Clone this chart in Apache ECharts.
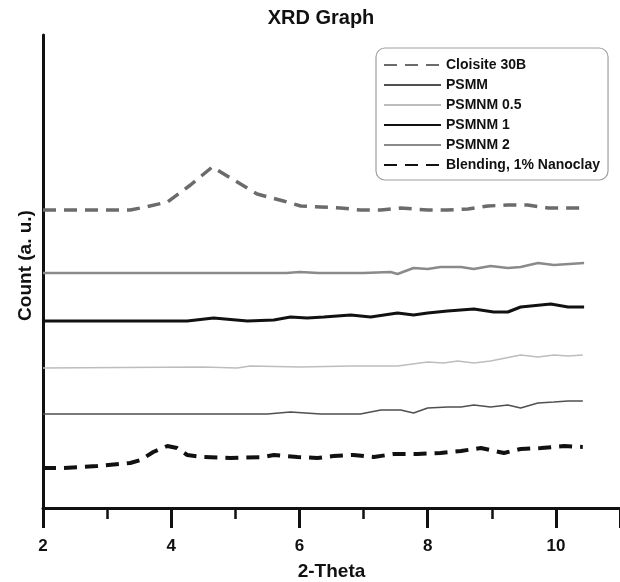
<!DOCTYPE html>
<html>
<head>
<meta charset="utf-8">
<script src="https://cdn.jsdelivr.net/npm/echarts@6/dist/echarts.min.js"></script>
<style>
  html, body { margin: 0; padding: 0; background: #fff; }
  #chart { width: 620px; height: 582px; }
</style>
</head>
<body>
<div id="chart"></div>
<script>
// XRD curves, y in arbitrary units (stacked offsets)
const cloisiteX = [2, 2.5, 3, 3.36, 3.6, 3.94, 4.3, 4.64, 5.03, 5.34, 5.75, 6.02, 6.33, 6.64, 6.95, 7.27, 7.58, 8.0, 8.3, 8.63, 8.94, 9.25, 9.56, 9.88, 10.4]
const cloisiteY = [298, 298, 298, 298, 301, 306, 323, 341, 326, 314, 307, 302, 301, 300, 298, 298, 300, 298, 298, 299, 302, 303, 303, 300, 300]

const psmmX = [2, 5.5, 5.86, 6.33, 6.95, 7.27, 7.58, 7.78, 8.0, 8.31, 8.52, 8.72, 8.98, 9.25, 9.45, 9.72, 9.97, 10.19, 10.42]
const psmmY = [94, 94, 96, 94, 94, 98, 98, 95, 100, 101, 101, 103, 101, 103, 100, 105, 106, 107, 107]

const psmnm05X = [2, 4.5, 5.03, 5.23, 6.02, 6.8, 7.53, 8.0, 8.25, 8.47, 8.72, 8.98, 9.45, 9.72, 9.97, 10.19, 10.42]
const psmnm05Y = [140, 141, 140, 142, 141, 142, 142, 146, 145, 147, 145, 147, 153, 151, 153, 152, 153]

const psmnm1X = [2, 4.25, 4.66, 5.19, 5.6, 5.86, 6.12, 6.38, 6.8, 7.11, 7.53, 7.78, 8.0, 8.31, 8.72, 9.03, 9.25, 9.45, 9.92, 10.19, 10.44]
const psmnm1Y = [187, 187, 190, 187, 188, 191, 190, 191, 193, 191, 195, 193, 195, 197, 199, 196, 196, 201, 204, 201, 201]

const psmnm2X = [2, 5.8, 6.0, 6.3, 7.0, 7.42, 7.53, 7.78, 8.0, 8.2, 8.52, 8.72, 8.98, 9.25, 9.45, 9.72, 9.97, 10.44]
const psmnm2Y = [235, 235, 236, 235, 235, 236, 234, 240, 239, 241, 241, 239, 242, 240, 241, 245, 243, 245]

const blendX = [2, 2.31, 2.84, 3.36, 3.52, 3.72, 3.94, 4.09, 4.25, 4.5, 4.92, 5.44, 5.6, 5.97, 6.28, 6.53, 6.84, 7.16, 7.47, 7.84, 8.2, 8.52, 8.83, 9.19, 9.45, 9.77, 10.13, 10.42]
const blendY = [40, 40, 42, 45, 48, 56, 62, 60, 53, 51, 50, 51, 53, 51, 50, 52, 53, 51, 54, 54, 55, 57, 60, 55, 59, 60, 62, 61]

const zip = (xs, ys) => xs.map((x, i) => [x, ys[i]])

const FONT = 'Liberation Sans'
const chart = echarts.init(document.getElementById('chart'))

function line(name, xs, ys, color, width, type) {
  return {
    name, type: 'line', data: zip(xs, ys),
    symbol: 'none', smooth: false,
    lineStyle: { color, width, type: type || 'solid' },
    itemStyle: { color }
  }
}

chart.setOption({
  animation: false,
  title: {
    text: 'XRD Graph', left: 316, top: 3, textAlign: 'center',
    textStyle: { fontFamily: FONT, fontSize: 20, fontWeight: 'bold', color: '#111' }
  },
  legend: {
    orient: 'vertical', left: 376, top: 48,
    padding: [10, 8, 8, 7],
    itemWidth: 57, itemHeight: 14, itemGap: 6,
    borderColor: '#a0a0a0', borderWidth: 1.2, borderRadius: 9,
    itemStyle: { opacity: 0 },
    textStyle: { fontFamily: FONT, fontSize: 14, fontWeight: 'bold', color: '#111' },
    data: ['Cloisite 30B', 'PSMM', 'PSMNM 0.5', 'PSMNM 1', 'PSMNM 2', 'Blending, 1% Nanoclay']
  },
  grid: { left: 43, right: 0, top: 35, bottom: 74, outerBoundsMode: 'none' },
  xAxis: {
    type: 'value', min: 2, max: 11, interval: 2,
    name: '2-Theta', nameLocation: 'middle', nameGap: 54,
    nameTextStyle: { fontFamily: FONT, fontSize: 19, fontWeight: 'bold', color: '#111' },
    axisLine: { lineStyle: { color: '#111', width: 3 } },
    axisTick: { length: 20, lineStyle: { color: '#111', width: 3 } },
    minorTick: { show: true, splitNumber: 2, length: 11, lineStyle: { color: '#111', width: 2.5 } },
    axisLabel: { margin: 30, fontFamily: FONT, fontSize: 17, fontWeight: 'bold', color: '#111', showMaxLabel: false },
    splitLine: { show: false }
  },
  yAxis: {
    type: 'value', min: 0, max: 473,
    name: 'Count (a. u.)', nameLocation: 'middle', nameGap: 8,
    nameTextStyle: { fontFamily: FONT, fontSize: 19, fontWeight: 'bold', color: '#111', padding: [0, 0, 0, 12] },
    axisLine: { show: true, lineStyle: { color: '#111', width: 3 } },
    axisTick: { show: false },
    axisLabel: { show: false },
    splitLine: { show: false }
  },
  series: [
    line('Cloisite 30B', cloisiteX, cloisiteY, '#6b6b6b', 3.5, [13, 8]),
    line('PSMM', psmmX, psmmY, '#505050', 1.5),
    line('PSMNM 0.5', psmnm05X, psmnm05Y, '#bdbdbd', 1.5),
    line('PSMNM 1', psmnm1X, psmnm1Y, '#111111', 3),
    line('PSMNM 2', psmnm2X, psmnm2Y, '#8a8a8a', 2.5),
    line('Blending, 1% Nanoclay', blendX, blendY, '#111111', 4, [13, 8])
  ]
})
</script>
</body>
</html>
